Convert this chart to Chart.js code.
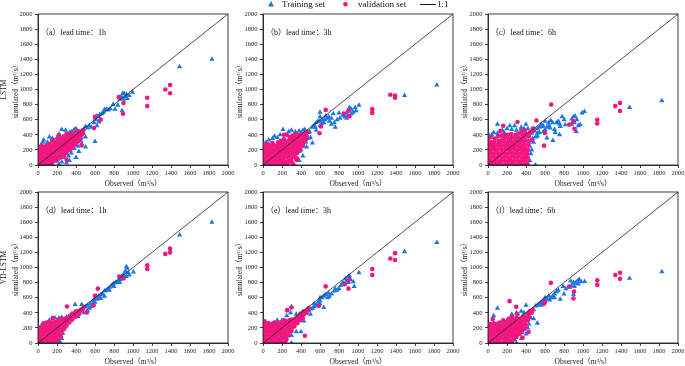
<!DOCTYPE html>
<html><head><meta charset="utf-8">
<script src="https://cdn.jsdelivr.net/npm/chart.js@4.4.1/dist/chart.umd.min.js"></script>
<style>
body{margin:0;background:#fff;width:685px;height:366px;position:relative;overflow:hidden}
canvas{position:absolute}
.lg{position:absolute;font-family:'Times New Roman','Liberation Serif',serif;font-size:9px;line-height:9px;color:#111;white-space:nowrap}
</style></head><body>
<canvas id="pa" width="240" height="189"></canvas>
<canvas id="pb" width="240" height="189"></canvas>
<canvas id="pc" width="240" height="189"></canvas>
<canvas id="pd" width="240" height="189"></canvas>
<canvas id="pe" width="240" height="189"></canvas>
<canvas id="pf" width="240" height="189"></canvas>
<div id="legend">
<svg style="position:absolute;left:267px;top:0px" width="8" height="8"><polygon points="4,1 7,6.5 1,6.5" fill="#1C75E8"/></svg>
<div class="lg" style="left:282px;top:0px">Training set</div>
<svg style="position:absolute;left:341px;top:0px" width="9" height="9"><circle cx="4.5" cy="4.2" r="2.3" fill="#F2177F"/></svg>
<div class="lg" style="left:358px;top:0px">validation set</div>
<svg style="position:absolute;left:419px;top:0px" width="18" height="9"><line x1="1" y1="4.5" x2="17" y2="4.5" stroke="#111" stroke-width="1"/></svg>
<div class="lg" style="left:437px;top:0px">1:1</div>
</div>
<script>
const categoriesRows = ['LSTM', 'VD-LSTM'];
const panelLabels = ['（a）lead time：1h','（b）lead time：3h','（c）lead time：6h','（d）lead time：1h','（e）lead time：3h','（f）lead time：6h'];
const tickValues = [0,200,400,600,800,1000,1200,1400,1600,1800,2000];
const xTitle = 'Observed（m³/s）';
const yTitle = 'simulated（m³/s）';
const seriesNames = ['Training set','validation set','1:1'];
const oneToOne = [[0,0],[2000,2000]];

const trainA = [[1830,1400],[1490,1300],[995,965],[960,920],[940,880],[920,905],[905,950],[890,945],[880,900],[860,870],[900,870],[930,935],[885,720],[840,790],[810,740],[790,800],[760,745],[740,730],[720,740],[700,735],[690,700],[670,680],[650,670],[640,640],[620,650],[610,600],[600,620],[590,560],[640,570],[620,520],[600,310],[560,500],[540,520],[520,490],[500,510],[480,470],[470,450],[500,370],[500,240],[460,400],[440,420],[420,380],[400,100],[400,480],[380,470],[350,440],[330,430],[290,460],[250,470],[220,410],[200,360],[150,350],[120,370],[100,300],[60,330],[50,300],[30,260],[10,220],[0,150],[20,120],[5,60],[150,20],[200,50],[220,10],[250,40],[300,30],[280,100],[320,120],[350,160],[380,220],[420,250],[450,320],[430,180],[460,280],[330,60],[260,180],[180,90],[420,330],[380,280],[340,200]];
const validA = [[1390,1060],[1340,1000],[1390,950],[1150,890],[1150,780],[850,900],[900,820],[895,680],[660,600],[600,640],[590,490],[460,260],[300,70],
[0,0],[5,40],[0,90],[8,140],[3,190],[10,225],[30,20],[35,70],[30,120],[28,170],[32,215],[40,250],[60,0],[65,50],[58,100],[62,150],[60,200],[65,240],[90,10],[95,60],[92,110],[88,160],[95,210],[90,260],[120,30],[125,80],[118,130],[122,180],[128,230],[120,275],[150,40],[155,95],[148,150],[152,200],[158,250],[150,310],[160,335],[180,60],[185,110],[178,160],[183,210],[188,260],[180,305],[210,80],[215,130],[208,180],[213,230],[218,280],[212,330],[220,395],[240,100],[245,150],[238,200],[243,250],[248,300],[240,350],[270,130],[275,180],[268,230],[273,280],[278,330],[270,380],[300,160],[305,210],[298,260],[303,310],[308,360],[300,410],[330,200],[335,250],[328,300],[333,350],[338,400],[360,230],[365,280],[358,330],[363,380],[368,420],[390,270],[395,320],[388,370],[393,420],[420,310],[425,360],[418,410],[423,445],[450,350],[455,400],[448,440],[475,420],[470,460]];

const trainB = [[1830,1060],[1490,920],[1010,790],[970,760],[950,700],[930,740],[910,760],[900,720],[880,690],[890,650],[860,640],[930,680],[980,720],[800,690],[810,620],[780,600],[760,500],[750,560],[740,680],[720,540],[700,580],[680,620],[660,650],[650,600],[630,600],[620,550],[600,700],[600,640],[580,580],[560,560],[550,500],[540,530],[520,500],[520,290],[500,360],[490,440],[480,430],[460,400],[440,470],[420,460],[400,420],[380,450],[340,440],[300,460],[270,440],[210,470],[180,400],[150,360],[120,380],[100,350],[60,330],[30,300],[0,280],[0,240],[200,0],[240,30],[300,60],[380,180],[420,250],[450,300],[470,350],[350,100],[400,200],[430,320],[460,240],[320,10],[150,10],[420,120],[380,60],[440,380],[560,460],[600,520],[640,560],[690,640],[720,620],[840,660],[880,620],[600,580]];
const validB = [[1340,930],[1390,920],[1390,890],[1150,740],[1150,690],[900,720],[910,645],[850,680],[660,730],[595,420],[610,510],[360,85],[320,10],[220,400],
[0,10],[5,60],[0,110],[8,160],[3,210],[10,250],[30,0],[35,50],[28,100],[32,150],[38,200],[30,250],[40,280],[60,20],[65,70],[58,120],[62,170],[68,220],[60,270],[90,0],[95,50],[92,100],[88,150],[95,200],[90,250],[100,290],[120,10],[125,60],[118,110],[122,160],[128,210],[120,260],[150,0],[155,50],[148,100],[152,150],[158,200],[150,250],[160,300],[180,20],[185,70],[178,120],[183,170],[188,220],[180,270],[190,320],[210,30],[215,80],[208,130],[213,180],[218,230],[212,280],[220,340],[240,40],[245,100],[238,150],[243,200],[248,250],[240,300],[250,400],[270,60],[275,120],[268,170],[273,220],[278,270],[270,320],[280,370],[300,90],[305,140],[298,190],[303,240],[308,290],[300,340],[310,390],[330,120],[335,170],[328,220],[333,270],[338,320],[330,370],[340,410],[360,160],[365,210],[358,260],[363,310],[368,360],[360,400],[390,200],[395,250],[388,300],[393,350],[398,400],[420,260],[425,310],[418,360],[423,410],[450,330],[455,380],[448,420],[470,440],[230,0],[260,20],[300,40],[350,70]];

const trainC = [[1830,850],[1490,760],[1015,710],[990,690],[970,535],[935,600],[928,445],[918,645],[900,640],[883,610],[910,560],[950,520],[880,540],[802,600],[813,534],[780,640],[753,543],[760,511],[740,580],[720,560],[707,432],[753,401],[683,326],[700,470],[680,560],[660,590],[655,490],[637,556],[620,358],[620,500],[602,578],[600,470],[584,445],[567,511],[560,540],[540,430],[520,380],[520,480],[500,0],[500,370],[480,300],[490,450],[460,200],[460,420],[440,60],[450,150],[430,300],[400,540],[420,480],[380,480],[350,480],[300,460],[250,470],[200,480],[230,520],[170,430],[100,540],[100,420],[60,430],[40,400],[0,380],[0,420],[480,480],[420,150],[470,350],[440,250],[410,0],[350,500],[150,460],[280,520],[520,420],[540,500],[580,520],[640,520]];
const validC = [[1340,780],[1390,820],[1390,715],[1150,600],[1150,550],[900,580],[910,480],[855,535],[665,800],[590,256],[600,425],[510,590],[310,570],[160,520],[470,480],[130,450],
[0,0],[5,50],[0,100],[8,150],[3,200],[10,250],[5,290],[0,340],[35,10],[30,60],[38,110],[32,160],[40,210],[35,260],[30,300],[30,370],[70,0],[65,50],[72,100],[68,150],[75,200],[70,250],[65,300],[70,350],[105,20],[100,70],[108,120],[102,170],[110,220],[105,270],[110,320],[105,380],[140,0],[135,50],[142,100],[138,150],[145,200],[140,250],[135,300],[150,340],[140,390],[175,10],[170,60],[178,110],[172,160],[180,210],[175,260],[170,310],[180,360],[175,400],[210,0],[205,50],[212,100],[208,150],[215,200],[210,250],[205,300],[215,350],[210,400],[245,20],[240,70],[248,120],[242,170],[250,220],[245,270],[240,320],[250,370],[245,410],[280,0],[275,50],[282,100],[278,150],[285,200],[280,250],[275,300],[285,350],[290,400],[315,10],[310,60],[318,110],[312,160],[320,210],[315,260],[310,310],[320,360],[315,410],[350,0],[345,50],[352,100],[348,150],[355,200],[350,250],[345,300],[355,350],[360,400],[350,440],[385,20],[380,70],[388,120],[382,170],[390,220],[385,270],[380,320],[390,370],[395,420],[385,460],[420,0],[415,50],[418,100],[412,150],[420,200],[425,260],[418,320],[430,380],[440,430],[460,330],[470,450],[480,480]];

const trainD = [[1830,1600],[1490,1430],[1005,940],[930,1010],[940,990],[920,950],[900,910],[880,880],[960,900],[930,880],[900,850],[870,840],[850,830],[840,800],[820,800],[800,790],[780,770],[760,740],[740,720],[720,700],[700,690],[680,650],[660,640],[650,600],[640,620],[620,580],[600,590],[600,540],[580,560],[560,480],[550,520],[520,500],[520,430],[500,480],[480,400],[470,450],[460,510],[450,430],[420,350],[400,380],[390,510],[380,340],[350,320],[300,280],[280,200],[260,130],[250,60],[230,20],[200,0],[20,200],[0,130],[0,170],[40,240],[120,300],[180,330],[220,330],[250,340],[300,340],[350,380],[420,420],[700,620],[750,700],[800,750],[860,800],[910,880],[950,930],[660,590],[580,520],[540,460]];
const validD = [[1390,1250],[1390,1200],[1340,1180],[1150,1030],[1150,980],[855,880],[900,860],[630,720],[600,625],[585,500],[515,405],[305,484],[400,420],
[0,0],[5,50],[0,100],[8,150],[3,200],[30,0],[35,50],[28,100],[32,150],[38,200],[60,10],[65,60],[58,110],[62,160],[68,210],[60,260],[90,20],[95,70],[92,120],[88,170],[95,220],[90,270],[120,30],[125,80],[118,130],[122,180],[128,230],[120,280],[150,20],[155,70],[148,120],[152,170],[158,220],[150,270],[155,330],[180,30],[185,80],[178,130],[183,180],[188,230],[180,280],[210,40],[215,100],[208,150],[213,200],[218,250],[212,300],[240,80],[245,130],[238,180],[243,230],[248,280],[240,320],[270,180],[275,230],[268,280],[280,320],[300,230],[305,280],[310,330],[330,270],[340,320],[335,360],[360,310],[370,350],[365,390],[400,350],[395,400],[410,380],[430,380],[440,420],[450,440],[470,450],[480,470]];

const trainE = [[1830,1330],[1490,1210],[1010,930],[960,750],[950,810],[920,840],[910,890],[900,880],[900,800],[880,820],[870,850],[860,780],[840,800],[820,760],[800,720],[780,700],[760,720],[750,690],[720,650],[700,620],[690,660],[680,600],[660,640],[640,620],[640,470],[620,600],[600,600],[600,560],[580,540],[560,500],[540,480],[520,460],[500,450],[500,380],[480,430],[460,420],[430,290],[420,380],[400,150],[380,300],[350,150],[300,480],[290,400],[250,360],[200,300],[150,300],[100,250],[50,250],[0,200],[300,100],[250,60],[300,0],[200,20],[400,360],[350,330],[320,250],[280,170],[230,110],[180,60],[420,420],[450,400],[350,380],[540,520],[600,520]];
const validE = [[1390,1190],[1390,1100],[1340,1120],[1150,980],[1150,900],[900,720],[910,840],[860,780],[660,750],[588,492],[441,97],[17,286],[300,470],[255,435],
[0,0],[5,50],[0,100],[8,150],[3,200],[10,240],[30,0],[35,50],[28,100],[32,150],[38,200],[30,250],[60,10],[65,60],[58,110],[62,160],[68,210],[60,260],[90,0],[95,50],[92,100],[88,150],[95,200],[90,250],[120,20],[125,70],[118,120],[122,170],[128,220],[120,270],[150,10],[155,60],[148,110],[152,160],[158,210],[150,260],[180,20],[185,70],[178,120],[183,170],[188,220],[180,270],[210,0],[215,60],[208,110],[213,160],[218,210],[212,260],[220,300],[240,30],[245,90],[238,140],[243,190],[248,240],[240,290],[270,100],[275,150],[268,200],[273,250],[278,300],[300,160],[305,210],[298,260],[303,310],[330,220],[335,270],[340,320],[360,260],[365,310],[370,350],[390,300],[400,350],[395,390],[420,330],[430,380],[440,420],[460,400],[470,440],[480,460]];

const trainF = [[1830,945],[1490,857],[1018,813],[980,810],[960,840],[940,820],[920,790],[900,800],[910,750],[880,760],[870,820],[860,740],[950,780],[900,640],[820,720],[800,650],[790,750],[760,580],[740,700],[720,680],[700,650],[680,620],[660,600],[640,620],[620,580],[600,600],[580,560],[560,540],[540,520],[520,500],[520,260],[500,490],[480,320],[460,420],[440,400],[430,250],[420,380],[400,500],[380,400],[350,420],[300,400],[250,380],[200,300],[100,460],[60,360],[0,250],[400,120],[350,60],[300,0],[250,20],[450,330],[420,200],[380,180],[330,110],[280,40],[480,440],[560,500],[600,560],[650,570],[700,600],[200,20],[150,0]];
const validF = [[1390,930],[1390,850],[1340,900],[1150,830],[1150,770],[906,681],[900,589],[854,747],[661,796],[598,541],[590,520],[227,554],[297,479],[49,317],[427,145],[364,70],
[0,0],[5,50],[0,100],[8,150],[3,200],[10,250],[30,0],[35,50],[28,100],[32,150],[38,200],[30,250],[60,10],[65,60],[58,110],[62,160],[68,210],[60,260],[90,0],[95,50],[92,100],[88,150],[95,200],[90,250],[120,20],[125,70],[118,120],[122,170],[128,220],[120,270],[150,0],[155,60],[148,110],[152,160],[158,210],[150,260],[160,300],[180,20],[185,70],[178,120],[183,170],[188,220],[180,270],[210,0],[215,60],[208,110],[213,160],[218,210],[212,260],[220,320],[240,30],[245,90],[238,140],[243,190],[248,240],[240,290],[250,350],[270,50],[275,110],[268,160],[273,210],[278,260],[270,310],[300,80],[305,130],[298,180],[303,230],[308,280],[300,330],[310,380],[330,120],[335,170],[328,220],[333,270],[338,320],[360,150],[365,200],[358,250],[363,300],[368,350],[390,200],[395,250],[388,300],[400,350],[420,300],[430,350],[425,400],[440,420],[460,400],[470,440]];

const FONT = "'Times New Roman','Liberation Serif','Noto Sans CJK SC',serif";
const BLUE = '#1C75E8', PINK = '#F2177F';

const panelDecor = {
  id: 'panelDecor',
  afterDraw(chart, args, opts) {
    const {ctx, chartArea: a} = chart;
    ctx.save();
    ctx.strokeStyle = '#111'; ctx.lineWidth = 0.8;
    ctx.strokeRect(a.left, a.top, a.right - a.left, a.bottom - a.top);
    ctx.fillStyle = '#111'; ctx.font = '8px ' + FONT; ctx.textBaseline = 'middle'; ctx.textAlign = 'left';
    ctx.fillText(opts.label, a.left + 3, a.top + 19);
    ctx.restore();
  }
};

const toPts = arr => arr.map(p => ({x: p[0], y: p[1]}));

function makePanel(id, plotLeft, plotTop, train, valid, label, yText, titlePad) {
  const cv = document.getElementById(id);
  cv.style.left = Math.round(plotLeft - 40) + 'px';
  cv.style.top = Math.round(plotTop - 8) + 'px';
  const tickOpts = {font: {family: FONT, size: 6.5}, color: '#222', maxRotation: 0, autoSkip: false, callback: v => String(v)};
  const gridOpts = {display: true, drawOnChartArea: false, drawTicks: true, tickLength: 3, color: '#111', lineWidth: 0.8};
  new Chart(cv, {
    type: 'scatter',
    data: {datasets: [
      {label: seriesNames[2], data: toPts(oneToOne), showLine: true, borderColor: '#222', borderWidth: 0.8, pointRadius: 0, fill: false},
      {label: seriesNames[1], data: toPts(valid), pointStyle: 'circle', pointRadius: 2.3, pointBackgroundColor: PINK, pointBorderWidth: 0, pointBorderColor: PINK},
      {label: seriesNames[0], data: toPts(train), pointStyle: 'triangle', pointRadius: 3, pointBackgroundColor: BLUE, pointBorderWidth: 0, pointBorderColor: BLUE}
    ]},
    options: {
      responsive: false, animation: false, events: [],
      layout: {padding: {top: 8, right: 10, left: 0, bottom: 0}},
      plugins: {legend: {display: false}, tooltip: {enabled: false}, panelDecor: {label}},
      scales: {
        x: {type: 'linear', min: 0, max: 2000,
          afterBuildTicks: s => { s.ticks = tickValues.map(v => ({value: v})); },
          ticks: Object.assign({padding: 1.5}, tickOpts), grid: gridOpts,
          border: {color: '#111', width: 0.8},
          title: {display: true, text: xTitle, font: {family: FONT, size: 7.5, lineHeight: 1.2}, color: '#222', padding: {top: 0, bottom: 6.5}},
          afterFit: s => { s.height = 30; }},
        y: {type: 'linear', min: 0, max: 2000,
          afterBuildTicks: s => { s.ticks = tickValues.map(v => ({value: v})); },
          ticks: Object.assign({padding: 2.4}, tickOpts), grid: gridOpts,
          border: {color: '#111', width: 0.8},
          title: {display: true, text: yText, font: {family: FONT, size: 7.5, lineHeight: 1.6}, color: '#222', padding: {top: titlePad, bottom: 0}},
          afterFit: s => { s.width = 40; }}
      }
    },
    plugins: [panelDecor]
  });
}

const colLefts = [37.7, 262.7, 487.7];
const rowTops = [14, 192.3];
makePanel('pa', colLefts[0], rowTops[0], trainA, validA, panelLabels[0], [categoriesRows[0], yTitle], 0);
makePanel('pb', colLefts[1], rowTops[0], trainB, validB, panelLabels[1], yTitle, 11.3);
makePanel('pc', colLefts[2], rowTops[0], trainC, validC, panelLabels[2], yTitle, 11.3);
makePanel('pd', colLefts[0], rowTops[1], trainD, validD, panelLabels[3], [categoriesRows[1], yTitle], 0);
makePanel('pe', colLefts[1], rowTops[1], trainE, validE, panelLabels[4], yTitle, 11.3);
makePanel('pf', colLefts[2], rowTops[1], trainF, validF, panelLabels[5], yTitle, 11.3);
</script>
</body></html>
